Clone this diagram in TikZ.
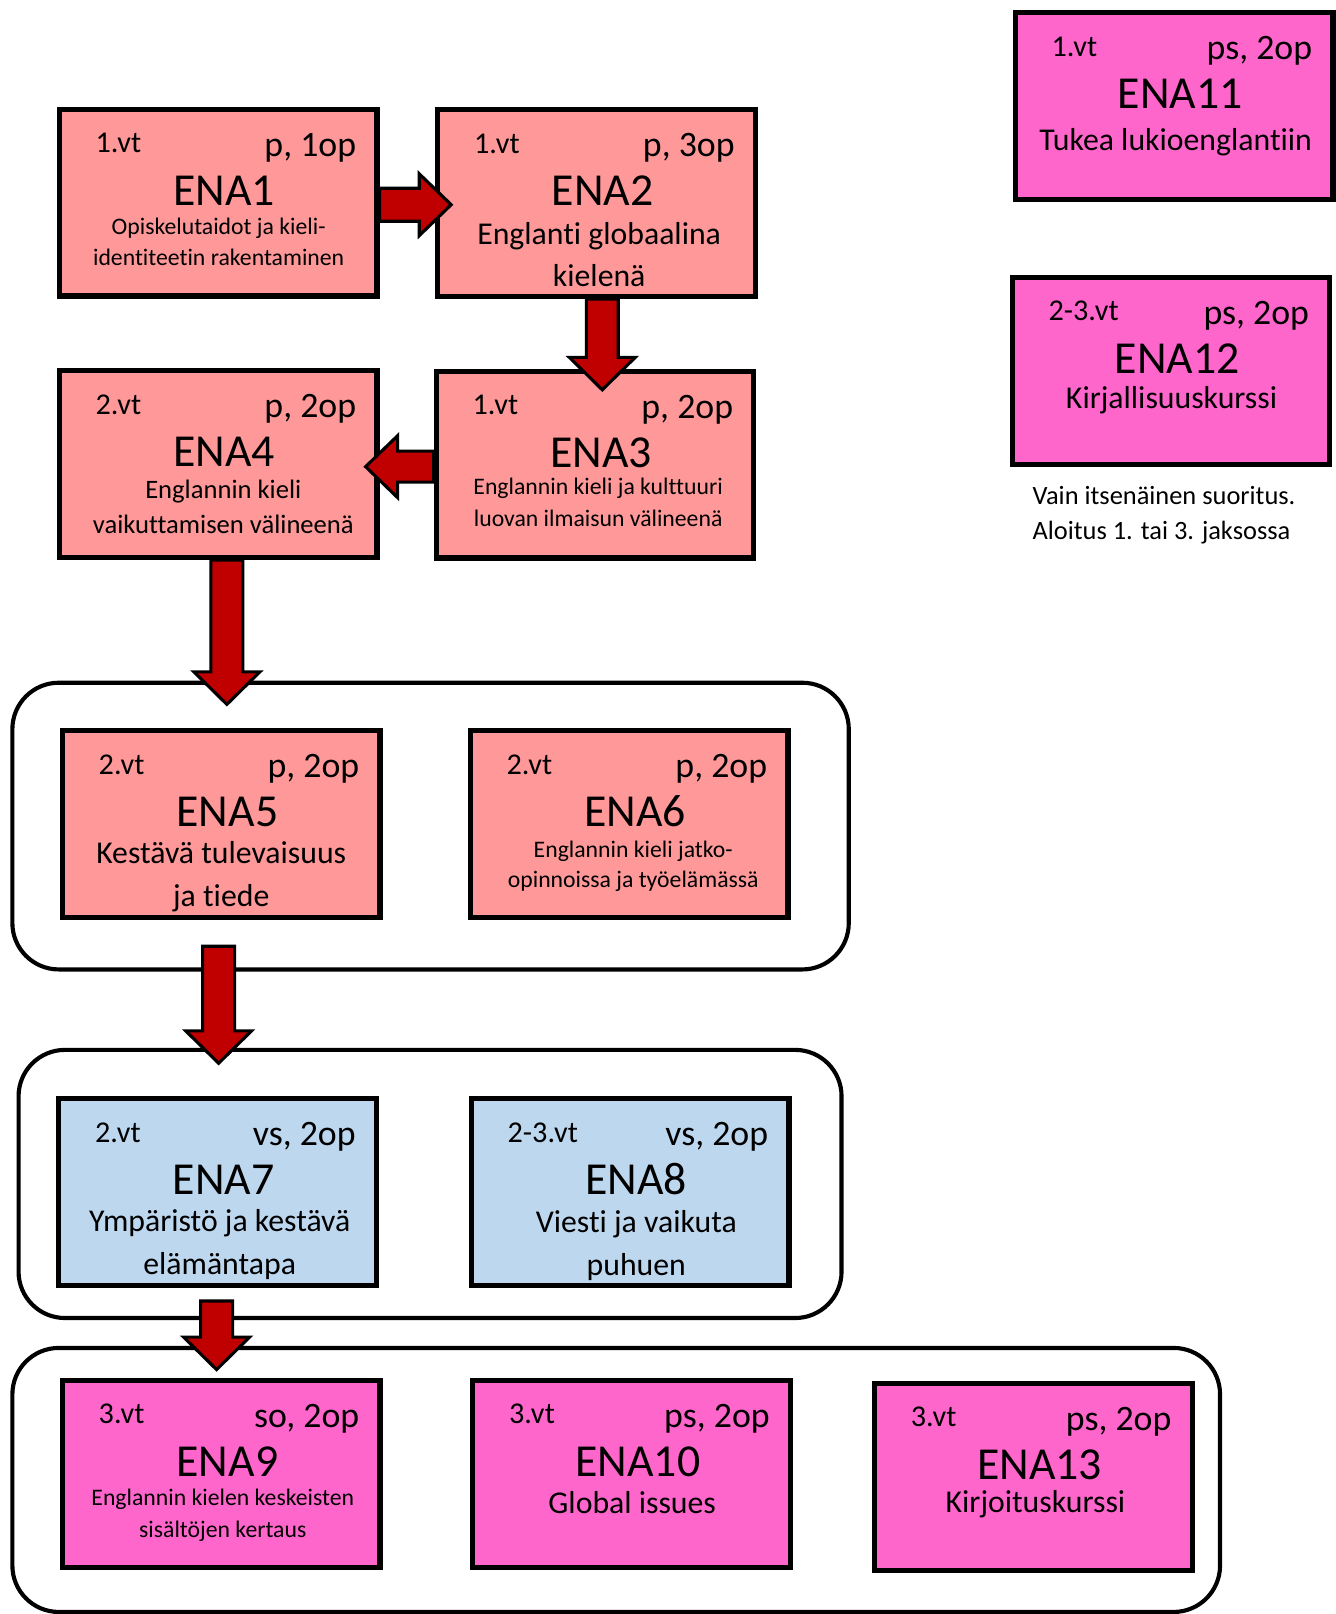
\documentclass[tikz,border=0pt]{standalone}
\usepackage{fontspec}
\setmainfont{Carlito}[Ligatures=NoCommon]
\usetikzlibrary{calc}
\definecolor{salmonc}{HTML}{FF9999}
\definecolor{pinkc}{HTML}{FF66CC}
\definecolor{bluec}{HTML}{BDD7EE}
\definecolor{arrowred}{HTML}{C00000}
\tikzset{
 cbox/.style={draw=black, line width=5pt, minimum width=308pt, minimum height=181pt, inner sep=0pt},
 grp/.style={draw=black, line width=4pt, rounded corners=45pt, inner sep=0pt},
 vtf/.style={font=\fontsize{29.3pt}{34pt}\selectfont, inner sep=0pt, anchor=base west},
 opf/.style={font=\fontsize{34.7pt}{40pt}\selectfont, inner sep=0pt, anchor=base east},
 titf/.style={font=\fontsize{44.4pt}{50pt}\selectfont, inner sep=0pt, anchor=base},
 subL/.style={font=\fontsize{30.8pt}{36pt}\selectfont, inner sep=0pt, anchor=base},
 subM/.style={font=\fontsize{25.8pt}{30pt}\selectfont, inner sep=0pt, anchor=base},
 subS/.style={font=\fontsize{23pt}{28pt}\selectfont, inner sep=0pt, anchor=base},
 notef/.style={font=\fontsize{25.6pt}{30pt}\selectfont, inner sep=0pt, anchor=base west},
 barrow/.style={draw=black, line width=3pt, fill=arrowred, line join=miter},
}
\newcommand\ENAbox[7]{%
  \node[cbox, fill=#4] (#1) at (#2,#3) {};
  \node[vtf] (#1vt) at ($(#1.north west)+(37.5,44.5)$) {#5};
  \node[opf] (#1op) at ($(#1.north east)+(-22.5,48)$) {#6};
  \node[titf] (#1ti) at ($(#1.north)+(6,95.5)$) {#7};
}
\newcommand\ENAsub[6]{%
  \node[#2] (#1) at ($(#3.north)+(#4,#5)$) {#6};
}
\newcommand\downarrowblk[2]{%
  \draw[barrow] let \p1=(#1), \p2=(#2) in
   (\x1-15.5pt,\y1) -- (\x1-15.5pt,\y2+31.5pt) -- (\x1-32pt,\y2+31.5pt) -- (\x1,\y2)
   -- (\x1+32pt,\y2+31.5pt) -- (\x1+15.5pt,\y2+31.5pt) -- (\x1+15.5pt,\y1) -- cycle;
}
\newcommand\rightarrowblk[2]{%
  \draw[barrow] let \p1=(#1), \p2=(#2) in
   (\x1,\y1+16pt) -- (\x2-31pt,\y1+16pt) -- (\x2-31pt,\y1+30pt) -- (\x2,\y1)
   -- (\x2-31pt,\y1-30pt) -- (\x2-31pt,\y1-16pt) -- (\x1,\y1-16pt) -- cycle;
}
\newcommand\leftarrowblk[2]{%
  \draw[barrow] let \p1=(#1), \p2=(#2) in
   (\x1,\y1+15pt) -- (\x2+31pt,\y1+15pt) -- (\x2+31pt,\y1+30pt) -- (\x2,\y1)
   -- (\x2+31pt,\y1-30pt) -- (\x2+31pt,\y1-15pt) -- (\x1,\y1-15pt) -- cycle;
}
\begin{document}
\begin{tikzpicture}[x=1pt,y=-1pt]
\useasboundingbox[fill=white] (0,0) rectangle (1295,1565);
% groups
\node[grp, minimum width=811pt, minimum height=278pt] (G1) at (417.5,801) {};
\node[grp, minimum width=798pt, minimum height=260pt] (G2) at (417,1148) {};
\node[grp, minimum width=1171pt, minimum height=256pt] (G3) at (597.5,1435) {};
% boxes
\ENAbox{ENA1}{211.5}{196.5}{salmonc}{1.vt}{p, 1op}{ENA1}
\ENAsub{ENA1s1}{subS}{ENA1}{0.5}{124}{Opiskelutaidot ja kieli-}
\ENAsub{ENA1s2}{subS}{ENA1}{0.5}{154}{identiteetin rakentaminen}
\ENAbox{ENA2}{578.5}{197}{salmonc}{1.vt}{p, 3op}{ENA2}
\ENAsub{ENA2s1}{subL}{ENA2}{2.5}{133.5}{Englanti globaalina}
\ENAsub{ENA2s2}{subL}{ENA2}{2.5}{173.5}{kielenä}
\ENAbox{ENA3}{577}{450.5}{salmonc}{1.vt}{p, 2op}{ENA3}
\ENAsub{ENA3s1}{subS}{ENA3}{3}{122}{Englannin kieli ja kulttuuri}
\ENAsub{ENA3s2}{subS}{ENA3}{3}{153}{luovan ilmaisun välineenä}
\ENAbox{ENA4}{211.5}{450}{salmonc}{2.vt}{p, 2op}{ENA4}
\ENAsub{ENA4s1}{subM}{ENA4}{5}{126}{Englannin kieli}
\ENAsub{ENA4s2}{subM}{ENA4}{5}{160}{vaikuttamisen välineenä}
\ENAbox{ENA5}{214.5}{799}{salmonc}{2.vt}{p, 2op}{ENA5}
\ENAsub{ENA5s1}{subL}{ENA5}{0}{131.5}{Kestävä tulevaisuus}
\ENAsub{ENA5s2}{subL}{ENA5}{0}{173}{ja tiede}
\ENAbox{ENA6}{610}{799}{salmonc}{2.vt}{p, 2op}{ENA6}
\ENAsub{ENA6s1}{subS}{ENA6}{4}{125}{Englannin kieli jatko-}
\ENAsub{ENA6s2}{subS}{ENA6}{4}{155}{opinnoissa ja työelämässä}
\ENAbox{ENA7}{211}{1156}{bluec}{2.vt}{vs, 2op}{ENA7}
\ENAsub{ENA7s1}{subL}{ENA7}{2}{131.5}{Ympäristö ja kestävä}
\ENAsub{ENA7s2}{subL}{ENA7}{2}{172.5}{elämäntapa}
\ENAbox{ENA8}{611}{1156}{bluec}{2-3.vt}{vs, 2op}{ENA8}
\ENAsub{ENA8s1}{subL}{ENA8}{6}{132.5}{Viesti ja vaikuta}
\ENAsub{ENA8s2}{subL}{ENA8}{6}{173.5}{puhuen}
\ENAbox{ENA9}{214.5}{1429}{pinkc}{3.vt}{so, 2op}{ENA9}
\ENAsub{ENA9s1}{subS}{ENA9}{1.5}{124}{Englannin kielen keskeisten}
\ENAsub{ENA9s2}{subS}{ENA9}{1.5}{155}{sisältöjen kertaus}
\ENAbox{ENA10}{612.5}{1429}{pinkc}{3.vt}{ps, 2op}{ENA10}
\ENAsub{ENA10s1}{subL}{ENA10}{0.5}{131.5}{Global issues}
\ENAbox{ENA13}{1002}{1432}{pinkc}{3.vt}{ps, 2op}{ENA13}
\ENAsub{ENA13s1}{subL}{ENA13}{2}{127.5}{Kirjoituskurssi}
\ENAbox{ENA11}{1138.5}{103}{pinkc}{1.vt}{ps, 2op}{ENA11}
\ENAsub{ENA11s1}{subL}{ENA11}{1.5}{135.5}{Tukea lukioenglantiin}
\ENAbox{ENA12}{1135.5}{359.5}{pinkc}{2-3.vt}{ps, 2op}{ENA12}
\ENAsub{ENA12s1}{subL}{ENA12}{0.5}{129.5}{Kirjallisuuskurssi}
% note
\node[notef] (note1) at (1001,489) {Vain itsenäinen suoritus.};
\node[notef] (note2) at (1001,523) {Aloitus 1. tai 3. jaksossa};
% arrow end points
\coordinate (a12s) at ($(ENA1.east)+(0,2)$);
\coordinate (a12t) at ($(ENA2.west)+(15.5,1.5)$);
\coordinate (a23s) at ($(ENA2.south)+(5.5,0)$);
\coordinate (a23t) at ($(ENA3.north)+(5.5,20.5)$);
\coordinate (a34s) at ($(ENA3.west)+(0,2)$);
\coordinate (a34t) at ($(ENA4.east)+(-13.5,2.5)$);
\coordinate (a4Gs) at ($(ENA4.south)+(8.5,0)$);
\coordinate (a4Gt) at ($(G1.north)+(-197.5,23)$);
\coordinate (aG12s) at ($(ENA5.south)+(-2.5,25.5)$);
\coordinate (aG12t) at ($(G2.north)+(-205,15)$);
\coordinate (aG23s) at ($(ENA7.south)+(-1,12.5)$);
\coordinate (aG23t) at ($(G3.north)+(-387.5,23)$);
% arrows
\rightarrowblk{a12s}{a12t}
\downarrowblk{a23s}{a23t}
\leftarrowblk{a34s}{a34t}
\downarrowblk{a4Gs}{a4Gt}
\downarrowblk{aG12s}{aG12t}
\downarrowblk{aG23s}{aG23t}
\end{tikzpicture}
\end{document}
